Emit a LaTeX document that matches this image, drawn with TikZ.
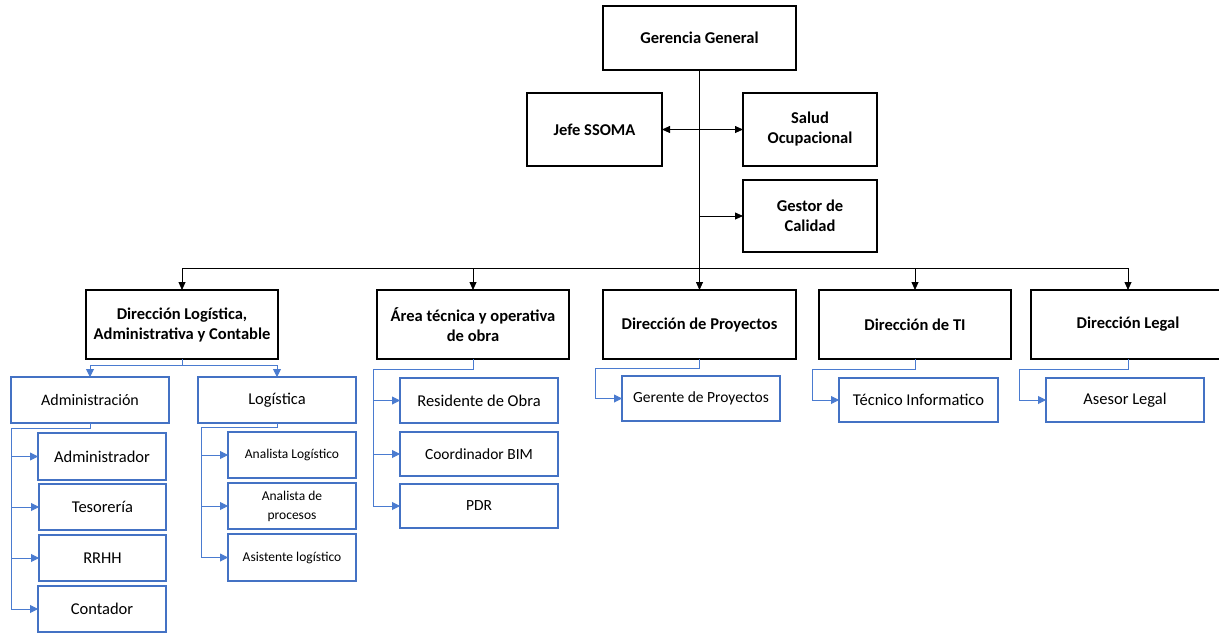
\documentclass[tikz,border=0pt]{standalone}
\usepackage{fontspec}
\setmainfont{Carlito}
\usetikzlibrary{arrows.meta}
\definecolor{boxblue}{HTML}{4472C4}
\definecolor{linkblue}{HTML}{4A7BD0}
\begin{document}
\begin{tikzpicture}[x=1pt,y=-1pt,
  head/.style={draw=black,line width=1.4pt,fill=white,align=center,inner sep=2pt,
    outer sep=0pt,font=\fontsize{16.5}{20}\selectfont\bfseries},
  unit/.style={draw=boxblue,line width=1.5pt,fill=white,align=center,inner sep=2pt,
    outer sep=0pt,font=\fontsize{16.5}{20}\selectfont},
  small/.style={font=\fontsize{13.5}{19}\selectfont},
  mid/.style={font=\fontsize{15.5}{19}\selectfont},
  link/.style={draw=black,line width=0.8pt},
  linkarr/.style={link,-{Triangle[length=8pt,width=7pt]}},
  sub/.style={draw=linkblue,line width=0.9pt},
  subarr/.style={sub,-{Triangle[length=8pt,width=8pt]}}]
\clip (0,0) rectangle (1219,633);
\fill[white] (0,0) rectangle (1219,633);

% top management
\node[head,minimum width=193,minimum height=64] (gg) at (699.5,38) {Gerencia General};
\node[head,minimum width=135,minimum height=73] (jefe) at (594.5,129.5) {Jefe SSOMA};
\node[head,minimum width=134,minimum height=73] (salud) at (810,129.5) {Salud\\Ocupacional};
\node[head,minimum width=134,minimum height=72] (gestor) at (810,216) {Gestor de\\Calidad};

% directions
\node[head,minimum width=192,minimum height=69] (dla) at (182,324.5) {Dirección Logística,\\Administrativa y Contable};
\node[head,minimum width=192,minimum height=69] (area) at (473,324.5) {Área técnica y operativa\\de obra};
\node[head,minimum width=193,minimum height=69] (dproy) at (699.5,324.5) {Dirección de Proyectos};
\node[head,minimum width=192,minimum height=69] (dti) at (915,324.5) {Dirección de TI};
\node[head,minimum width=194,minimum height=69] (dleg) at (1128,324.5) {Dirección Legal};

% administrative and logistics units
\node[unit,font=\fontsize{16}{20}\selectfont,minimum width=158,minimum height=46] (admin) at (90,400) {Administración};
\node[unit,minimum width=158,minimum height=46] (logis) at (277,400) {Logística};
\node[unit,minimum width=128,minimum height=47] (adm) at (102,456.5) {Administrador};
\node[unit,minimum width=127,minimum height=46] (teso) at (102.5,507) {Tesorería};
\node[unit,minimum width=127,minimum height=46] (rrhh) at (102.5,558) {RRHH};
\node[unit,minimum width=128,minimum height=46] (cont) at (102,609) {Contador};
\node[unit,small,minimum width=128,minimum height=46] (anlog) at (292,455) {Analista Logístico};
\node[unit,small,minimum width=128,minimum height=46] (anproc) at (292,506) {Analista de\\procesos};
\node[unit,small,minimum width=128,minimum height=47] (asist) at (292,557.5) {Asistente logístico};

% site units
\node[unit,minimum width=158,minimum height=45] (resid) at (479,400.5) {Residente de Obra};
\node[unit,mid,minimum width=158,minimum height=44] (coord) at (479,454) {Coordinador BIM};
\node[unit,mid,minimum width=158,minimum height=44] (pdr) at (479,506) {PDR};

% single units
\node[unit,mid,minimum width=158,minimum height=45] (gerp) at (701,398.5) {Gerente de Proyectos};
\node[unit,minimum width=159,minimum height=44] (tec) at (918.5,400) {Técnico Informatico};
\node[unit,minimum width=158,minimum height=44] (ases) at (1125,400) {Asesor Legal};

% main trunk and bus
\coordinate (bus) at (0,268);
\draw[link] (gg.south) -- (gg.south |- bus);
\draw[linkarr] (gg.south |- jefe.east) -- (jefe.east);
\draw[linkarr] (gg.south |- salud.west) -- (salud.west);
\draw[linkarr] (gg.south |- gestor.west) -- (gestor.west);
\draw[link] (dla.north |- bus) -- (dleg.north |- bus);
\foreach \d in {dla,area,dproy,dti,dleg}
  \draw[linkarr] (\d.north |- bus) -- (\d.north);

% Dirección Logística branch
\coordinate (dlaj) at (182,365);
\draw[sub] (dla.south) -- (dlaj);
\draw[subarr] (dlaj) -| (admin.north);
\draw[subarr] (dlaj) -| (logis.north);

\coordinate (admrail) at (11,428);
\draw[sub] (admin.south) |- (admrail) -- (admrail |- cont.west);
\foreach \u in {adm,teso,rrhh,cont}
  \draw[subarr] (admrail |- \u.west) -- (\u.west);

\coordinate (lograil) at (201,427);
\draw[sub] (logis.south) |- (lograil) -- (lograil |- asist.west);
\foreach \u in {anlog,anproc,asist}
  \draw[subarr] (lograil |- \u.west) -- (\u.west);

% Área técnica branch
\coordinate (arearail) at (373,369);
\draw[sub] (area.south) |- (arearail) -- (arearail |- pdr.west);
\foreach \u in {resid,coord,pdr}
  \draw[subarr] (arearail |- \u.west) -- (\u.west);

% single-unit branches
\coordinate (proyrail) at (595,368);
\draw[sub] (dproy.south) |- (proyrail) -- (proyrail |- gerp.west);
\draw[subarr] (proyrail |- gerp.west) -- (gerp.west);

\coordinate (tirail) at (812,369);
\draw[sub] (dti.south) |- (tirail) -- (tirail |- tec.west);
\draw[subarr] (tirail |- tec.west) -- (tec.west);

\coordinate (legrail) at (1019,369);
\draw[sub] (dleg.south) |- (legrail) -- (legrail |- ases.west);
\draw[subarr] (legrail |- ases.west) -- (ases.west);
\end{tikzpicture}
\end{document}
